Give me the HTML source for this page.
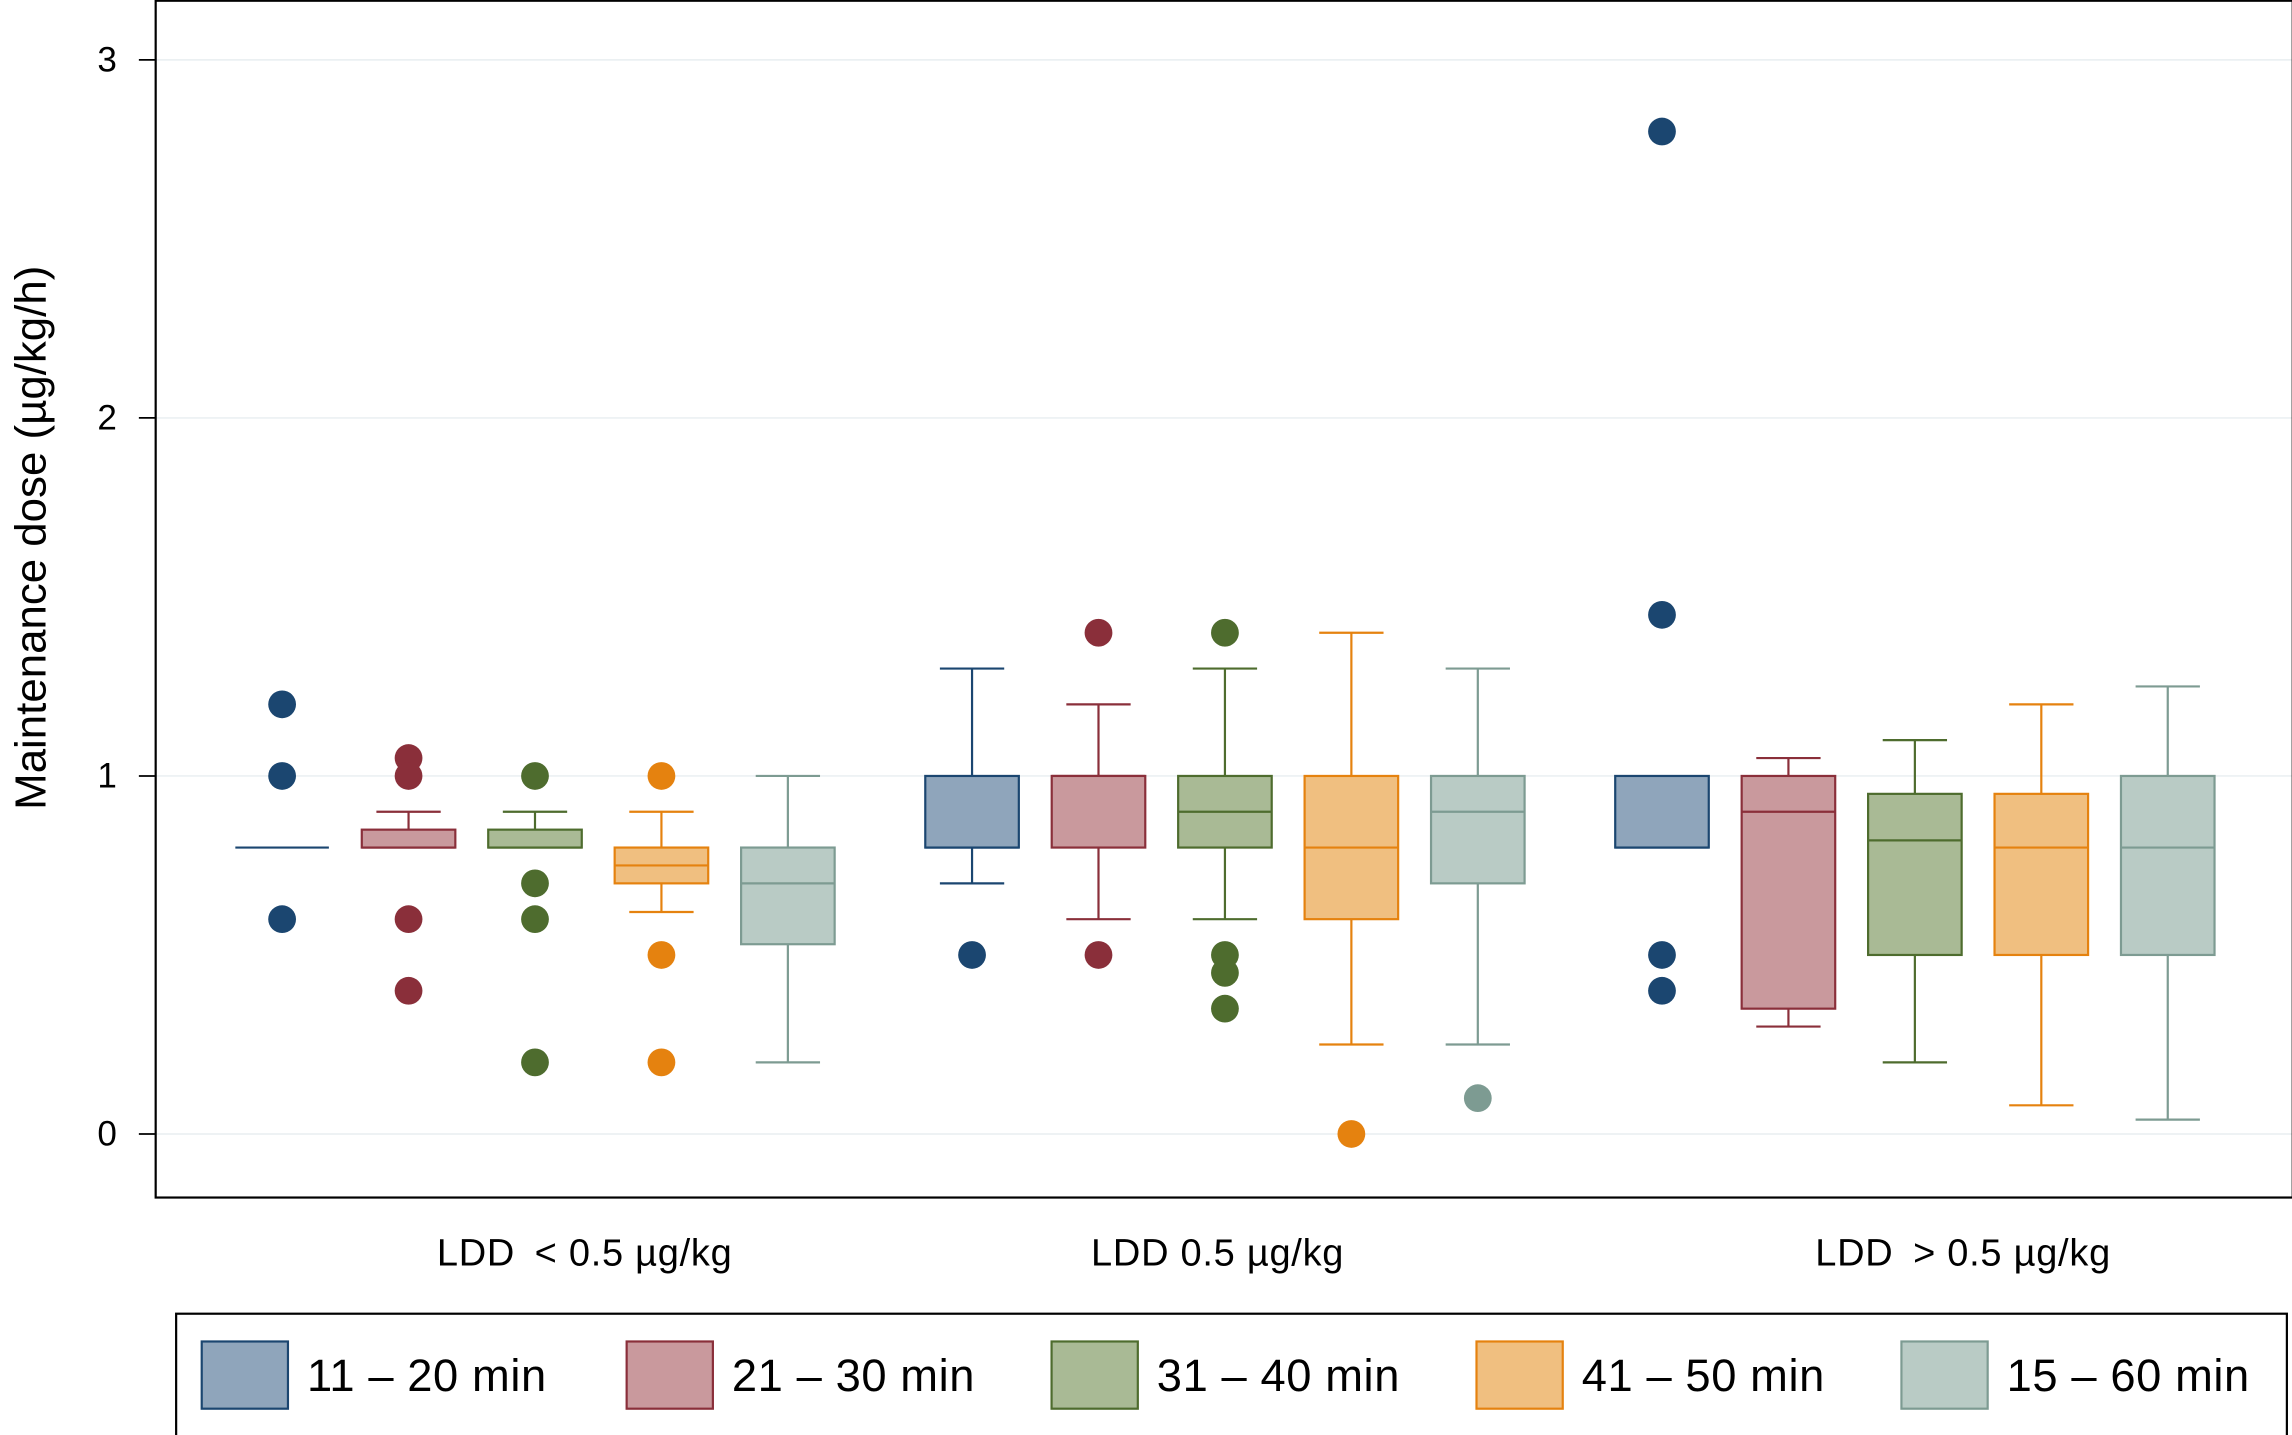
<!DOCTYPE html>
<html><head><meta charset="utf-8"><style>html,body{margin:0;padding:0;background:#fff}svg{display:block}text{font-family:"Liberation Sans",Arial,sans-serif;fill:#000}</style></head>
<body>
<svg id="chart" width="2292" height="1435" viewBox="0 0 1568 982" preserveAspectRatio="none" xmlns="http://www.w3.org/2000/svg">
<rect x="0" y="0" width="1568" height="982" fill="#fff"/>
<g id="grid"></g>
<rect x="106.5" y="0.5" width="1462" height="819" fill="none" stroke="#000" stroke-width="1.5"/>
<g id="yaxis"></g>
<text transform="translate(31,368) rotate(-90)" text-anchor="middle" font-size="30">Maintenance dose (µg/kg/h)</text>
<g id="marks"></g>
<g id="xlabels"></g>
<rect x="120.5" y="899" width="1444" height="90" fill="#fff" stroke="#000" stroke-width="1.5"/>
<g id="legend"></g>
</svg>
<script>
const groups = ["LDD  < 0.5 µg/kg", "LDD 0.5 µg/kg", "LDD  > 0.5 µg/kg"];
const series = ["11 – 20 min", "21 – 30 min", "31 – 40 min", "41 – 50 min", "15 – 60 min"];
const yTicks = [0, 1, 2, 3];
// per group, per series: [whiskerLo, q1, median, q3, whiskerHi]
const boxStats = [
  [[0.8,0.8,0.8,0.8,0.8],[0.8,0.8,0.8,0.85,0.9],[0.8,0.8,0.8,0.85,0.9],[0.62,0.7,0.75,0.8,0.9],[0.2,0.53,0.7,0.8,1.0]],
  [[0.7,0.8,0.8,1.0,1.3],[0.6,0.8,1.0,1.0,1.2],[0.6,0.8,0.9,1.0,1.3],[0.25,0.6,0.8,1.0,1.4],[0.25,0.7,0.9,1.0,1.3]],
  [[0.8,0.8,0.8,1.0,1.0],[0.3,0.35,0.9,1.0,1.05],[0.2,0.5,0.82,0.95,1.1],[0.08,0.5,0.8,0.95,1.2],[0.04,0.5,0.8,1.0,1.25]]
];
const outliers = [
  [[1.2,1.0,0.6],[1.05,1.0,0.6,0.4],[1.0,0.7,0.6,0.2],[1.0,0.5,0.2],[]],
  [[0.5],[1.4,0.5],[1.4,0.5,0.45,0.35],[0.0],[0.1]],
  [[2.8,1.45,0.5,0.4],[],[],[],[]]
];
const strokes = ["#1b4670","#8a2f3a","#4e6c2e","#e5820f","#7d9b92"];
const fills = ["#8fa5bb","#c9999d","#a9ba95","#f0bf80","#b9cbc5"];
const dots = ["#1b4670","#8a2f3a","#4e6c2e","#e5820f","#7d9b92"];

const NS = "http://www.w3.org/2000/svg";
function el(tag, attrs, parent){const e=document.createElementNS(NS,tag);for(const k in attrs)e.setAttribute(k,attrs[k]);parent.appendChild(e);return e;}
function y(v){return 776 - 245*v;}
function x(g,s){return 193 + g*472 + s*86.5;}
const groupCenters=[400,833,1343];

const grid=document.getElementById('grid'), yaxis=document.getElementById('yaxis');
yTicks.forEach(t=>{
  const gl=el('line',{x1:107,x2:1568,y1:y(t),y2:y(t),stroke:'#e8eef0','stroke-width':1},grid);
  
  
  const tk=el('line',{x1:95,x2:106,y1:y(t),y2:y(t),stroke:'#000','stroke-width':1.2},yaxis);
  
  
  const tl=el('text',{x:80,y:y(t)+8,'text-anchor':'end','font-size':24},yaxis);
  tl.textContent=t;
  
  
});

const marks=document.getElementById('marks');
boxStats.forEach((grp,g)=>{
  grp.forEach((st,s)=>{
    const cx=x(g,s), w=64, cw=44;
    const [lo,q1,md,q3,hi]=st;
    const bg=el('g',{},marks);
    
    
    const sc=strokes[s];
    if(hi>q3){el('line',{x1:cx,x2:cx,y1:y(q3),y2:y(hi),stroke:sc,'stroke-width':1.5},bg);
      el('line',{x1:cx-cw/2,x2:cx+cw/2,y1:y(hi),y2:y(hi),stroke:sc,'stroke-width':1.5},bg);}
    if(lo<q1){el('line',{x1:cx,x2:cx,y1:y(q1),y2:y(lo),stroke:sc,'stroke-width':1.5},bg);
      el('line',{x1:cx-cw/2,x2:cx+cw/2,y1:y(lo),y2:y(lo),stroke:sc,'stroke-width':1.5},bg);}
    el('rect',{x:cx-w/2,y:y(q3),width:w,height:Math.max(0,y(q1)-y(q3)),fill:fills[s],stroke:sc,'stroke-width':1.5},bg);
    el('line',{x1:cx-w/2,x2:cx+w/2,y1:y(md),y2:y(md),stroke:sc,'stroke-width':1.5},bg);
    outliers[g][s].forEach((v,i)=>{
      const c=el('circle',{cx:cx,cy:y(v),r:9.5,fill:dots[s]},bg);
      
      
    });
  });
});

const xl=document.getElementById('xlabels');
groups.forEach((gname,g)=>{
  const t=el('text',{x:groupCenters[g],y:866,'text-anchor':'middle','font-size':26,'xml:space':'preserve','letter-spacing':'0.5'},xl);
  t.textContent=gname.replace('LDD  ','LDD\u2009 ');
  
  
});

const lg=document.getElementById('legend');
series.forEach((sname,s)=>{
  const sx=138+s*290.7;
  const item=el('g',{},lg);
  
  
  el('rect',{x:sx,y:918,width:59,height:46,fill:fills[s],stroke:strokes[s],'stroke-width':1.5},item);
  const t=el('text',{x:sx+72,y:952,'font-size':31,'letter-spacing':'0.4'},item);
  t.textContent=sname;
});
</script>
</body></html>
